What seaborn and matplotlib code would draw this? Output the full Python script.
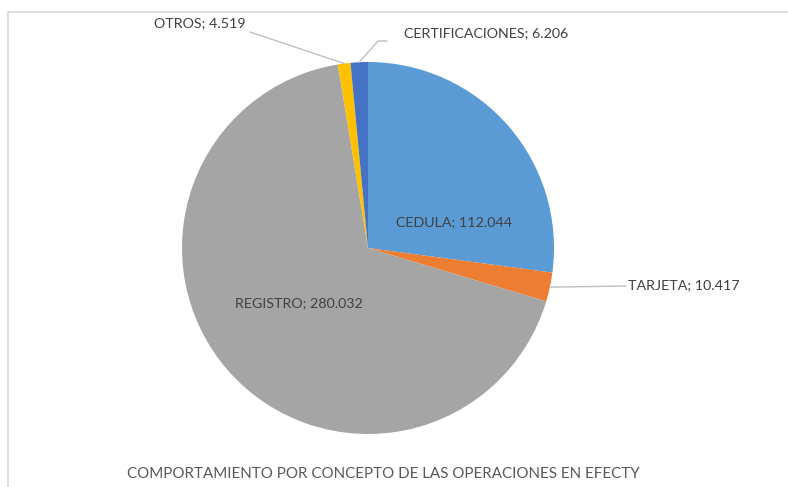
import numpy as np
import matplotlib
matplotlib.use("Agg")
import matplotlib.pyplot as plt
from matplotlib.lines import Line2D
import seaborn as sns

categories = ["CEDULA", "TARJETA", "REGISTRO", "OTROS", "CERTIFICACIONES"]
values = [112.044, 10.417, 280.032, 4.519, 6.206]
value_labels = ["112.044", "10.417", "280.032", "4.519", "6.206"]
colors = ["#5B9BD5", "#ED7D31", "#A5A5A5", "#FFC000", "#4472C4"]
title = "COMPORTAMIENTO POR CONCEPTO DE LAS OPERACIONES EN EFECTY"

sns.set_theme(style="white")
plt.rcParams['font.family'] = ['Lato', 'DejaVu Sans']

W, H = 788, 487
fig = plt.figure(figsize=(W / 100, H / 100), dpi=100)
cx, cy, R = 368, 248, 186
ax = fig.add_axes([(cx - R) / W, (H - cy - R) / H, 2 * R / W, 2 * R / H])
wedges, _ = ax.pie(values, colors=colors, startangle=90, counterclock=False,
                   radius=1.0, wedgeprops=dict(linewidth=0))
ax.set_xlim(-1, 1)
ax.set_ylim(-1, 1)
ax.set_aspect("equal")
ax.axis("off")

def d(px, py):
    return ((px - cx) / R, (cy - py) / R)

txt_color = "#404040"
fs = 10.3
lc = "#BFBFBF"

def mid(i):
    w = wedges[i]
    a = np.deg2rad((w.theta1 + w.theta2) / 2)
    return np.cos(a), np.sin(a)

# CEDULA inside
x, y = d(454, 222)
ax.text(x, y, f"{categories[0]}; {value_labels[0]}", ha="center", va="center",
        fontsize=fs, color=txt_color)
# REGISTRO inside
x, y = d(299, 303)
ax.text(x, y, f"{categories[2]}; {value_labels[2]}", ha="center", va="center",
        fontsize=fs, color=txt_color)

# TARJETA outside
mx, my = mid(1)
ex, ey = d(626, 286)
ax.plot([mx, ex], [my, ey], color=lc, lw=1, clip_on=False)
tx, ty = d(628, 285)
ax.text(tx, ty, f"{categories[1]}; {value_labels[1]}", ha="left", va="center",
        fontsize=fs, color=txt_color, clip_on=False)

# OTROS outside
mx, my = mid(3)
ex, ey = d(250, 32)
ax.plot([mx, ex], [my, ey], color=lc, lw=1, clip_on=False)
tx, ty = d(200, 23)
ax.text(tx, ty, f"{categories[3]}; {value_labels[3]}", ha="center", va="center",
        fontsize=fs, color=txt_color, clip_on=False)

# CERTIFICACIONES outside
mx, my = mid(4)
e1 = d(378, 41)
e2 = d(387, 41)
ax.plot([mx, e1[0], e2[0]], [my, e1[1], e2[1]], color=lc, lw=1, clip_on=False)
tx, ty = d(404, 33)
ax.text(tx, ty, f"{categories[4]}; {value_labels[4]}", ha="left", va="center",
        fontsize=fs, color=txt_color, clip_on=False)

fig.text(383 / W, 1 - 474 / H, title, ha="center", va="center",
         fontsize=10.9, color="#595959")

# border
fig.add_artist(Line2D([7.5 / W, 1.0], [1 - 11.5 / H, 1 - 11.5 / H],
                      transform=fig.transFigure, color="#D9D9D9", lw=1.2))
fig.add_artist(Line2D([7.5 / W, 7.5 / W], [0, 1 - 11.5 / H],
                      transform=fig.transFigure, color="#D9D9D9", lw=1.2))

fig.savefig("out.png", dpi=100, facecolor="white")
